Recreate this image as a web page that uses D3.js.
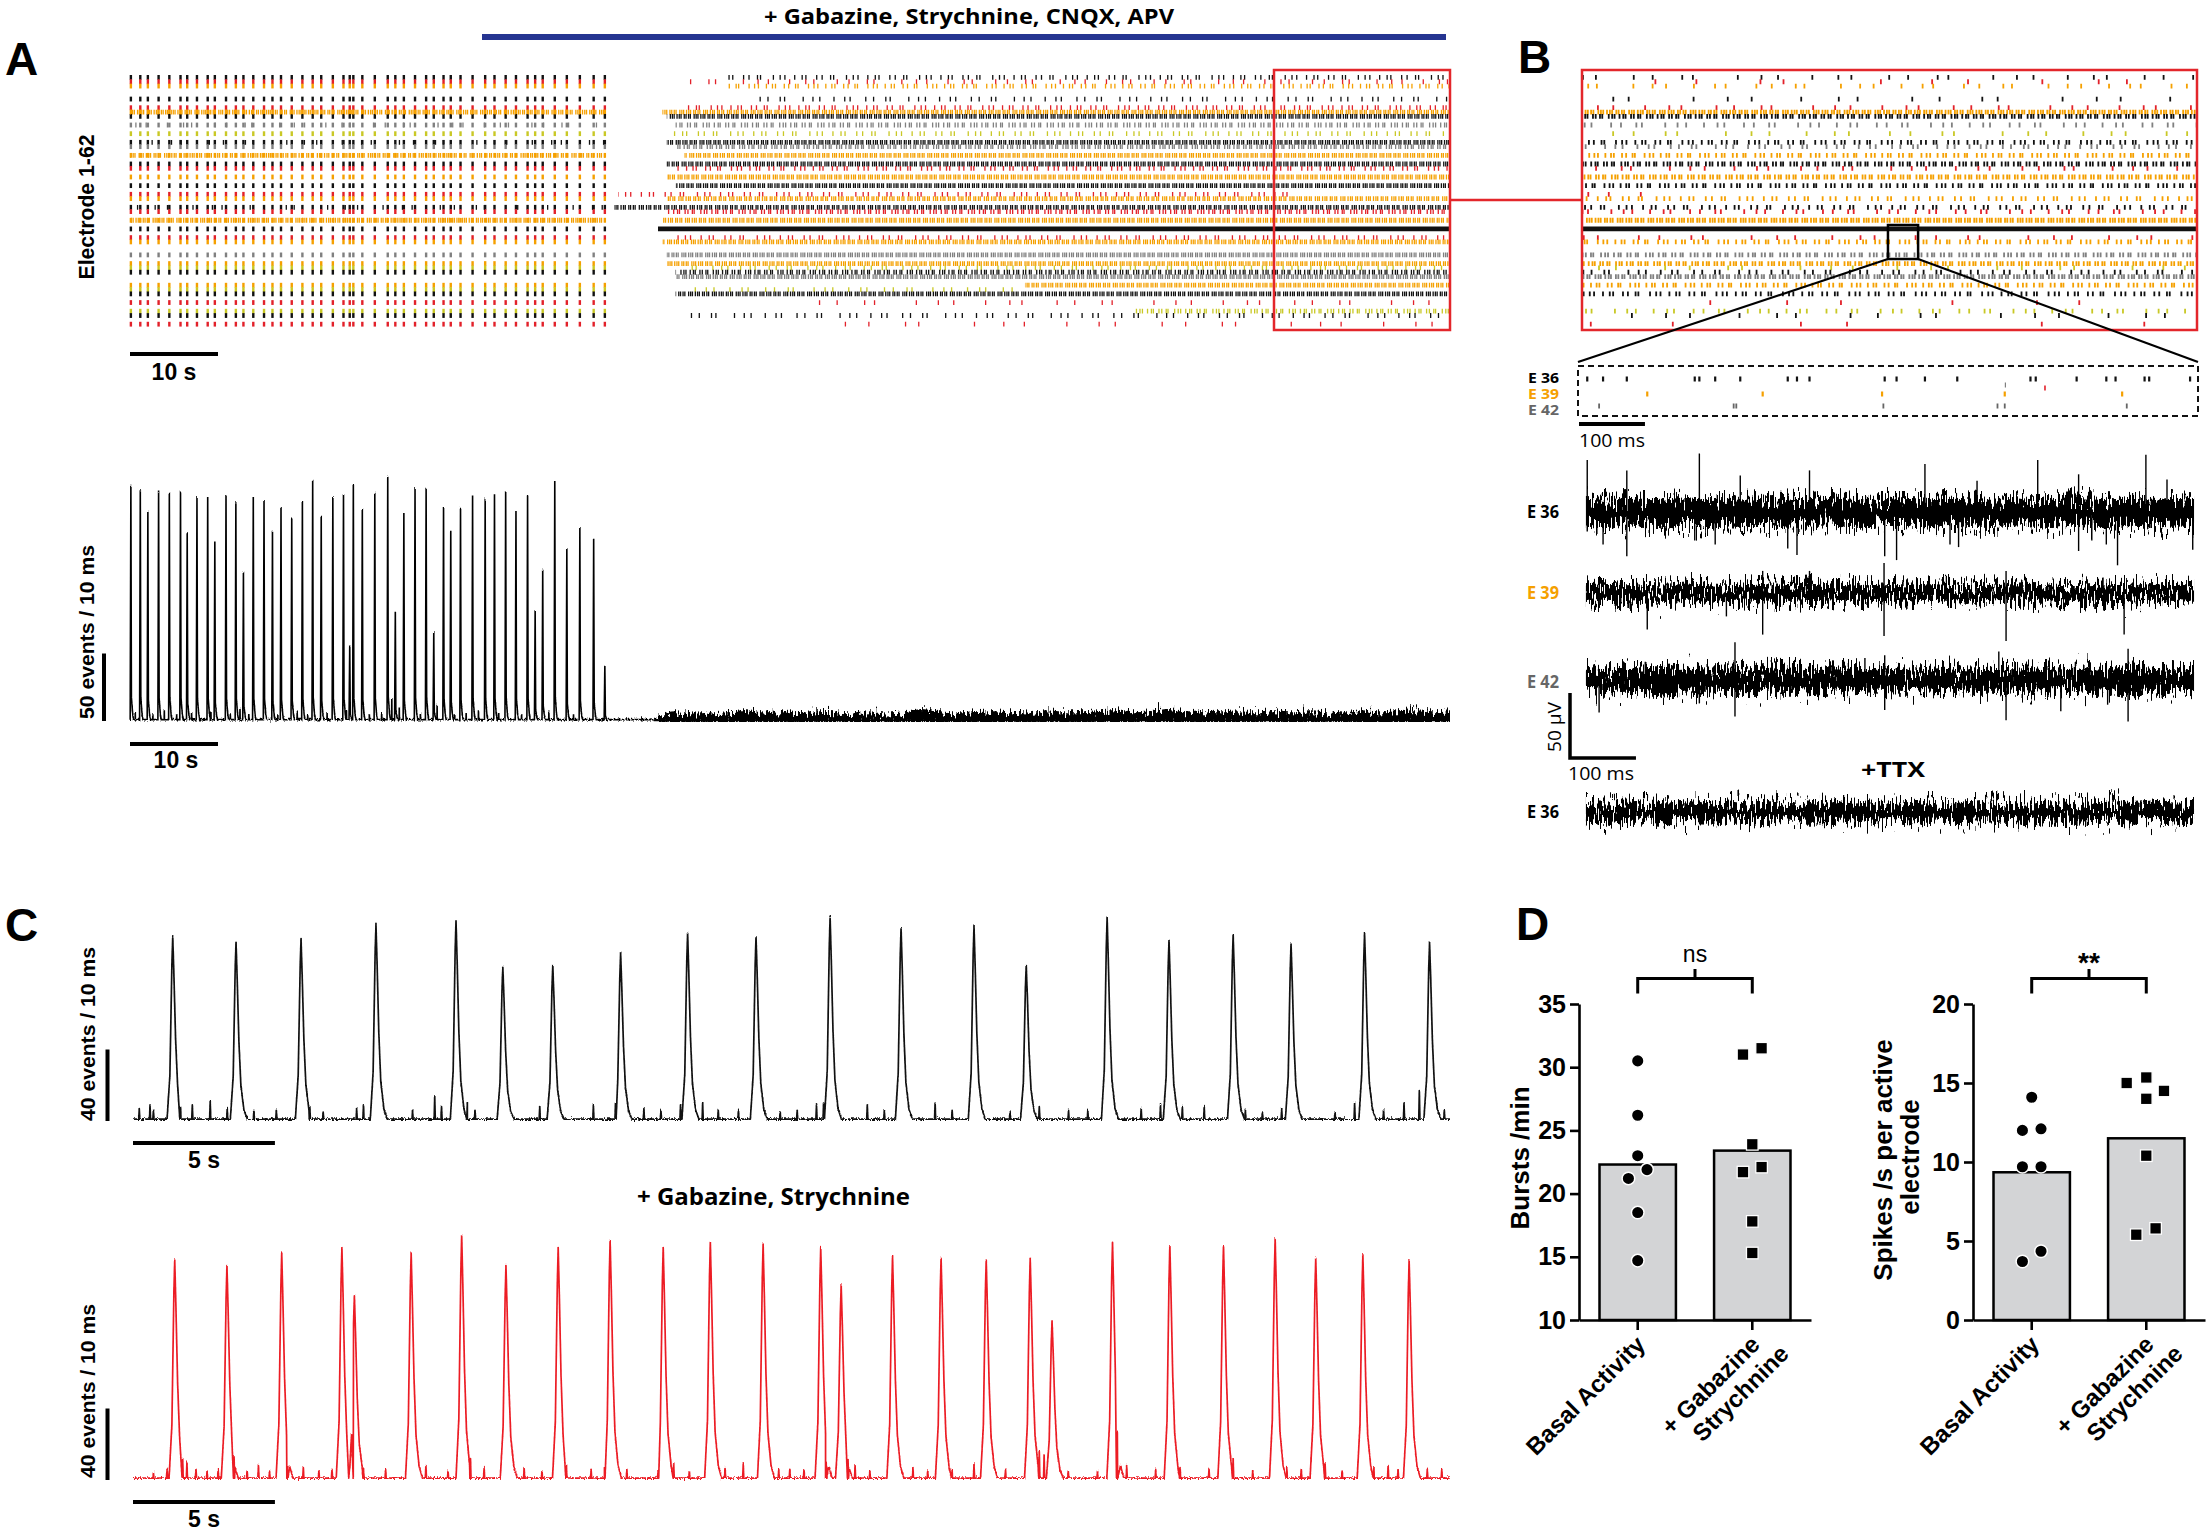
<!DOCTYPE html>
<html>
<head>
<meta charset="utf-8">
<script src="https://cdn.jsdelivr.net/npm/d3@7"></script>
<style>
  body { margin: 0; background: #fff; }
  svg { display: block; }
</style>
</head>
<body>
<svg id="fig" width="2211" height="1533"></svg>
<script>
// ---------- data ----------

// A: network bursts before the drugs (time s, events / 10 ms)
const burstTimesA = [0.1,1.17,2.03,3.25,4.47,5.74,6.5,7.61,8.83,9.64,10.91,12.03,12.89,14.01,15.23,16.19,17.16,18.38,19.59,20.76,21.73,23.05,24.26,24.97,25.38,26.4,27.82,29.29,30.15,31.12,32.39,33.65,34.52,35.63,36.45,37.56,38.93,40.36,41.42,42.69,43.86,45.18,46.04,46.9,48.27,49.64,51.12,52.69,53.96];
const burstHeightsA = [175,171,155,170,169,170,139,166,166,133,167,162,110,166,163,141,158,150,163,178,152,166,168,56,175,157,169,181,81,154,173,172,66,158,141,158,167,164,168,170,156,167,82,112,178,128,143,135,41];
const blipTimesA = [0.6,2.6,3.9,5.3,7.0,9.2,11.4,12.5,13.5,16.8,19.0,20.2,22.4,24.6,27.2,28.6,29.75,30.6,33.0,34.9,36.9,38.2,39.6,41.9,44.5,47.6,50.4,55.6,56.4,58.1,59.2];
const blipHeightsA = [6,5,8,5,6,7,5,9,6,5,7,5,6,8,5,6,17,10,6,12,5,6,8,6,5,7,5,2,2,1.5,2];
// A: activity under gabazine/strychnine/CNQX/APV, sampled every 2 s from 60 s (events / 10 ms)
const drugNoiseTimesA = [60,62,64,66,68,70,72,74,76,78,80,82,84,86,88,90,92,94,96,98,100,102,104,106,108,110,112,114,116,118,120,122,124,126,128,130,132,134,136,138,140,142,144,146,148,150];
const drugNoiseA = [4,8,6,7,8,9,7,8,6,9,8,7,8,7,8,11,8,7,8,9,8,7,9,8,8,9,10,8,9,11,8,9,8,9,8,9,8,9,8,7,9,8,9,10,9,10];

// A/B raster rows (electrode number, colour, basal bursting, rates in Hz, drug period in s)
const rowElectrode = [1,2,3,6,8,9,10,12,14,16,17,19,21,22,24,26,28,29,31,32,34,36,38,39,42,44,45,46,47,49,50,51,53,55,56,58];
const rowColor     = ["k","r","o","k","r","o","k","g","y","k","g","o","k","r","o","k","r","o","k","r","o","k","r","o","g","o","y","k","g","o","y","k","r","y","k","r"];
const rowBasal     = [1,1,1,1,1,1,1,1,1,1,1,1,1,1,1,1,1,1,1,1,1,1,1,1,1,1,1,1,0,1,1,1,1,1,1,1];
const rowBasalRate = [0,0,0,0,0,6,0,0.6,0,0.5,0,4,0,0,0,0,0,0,0.5,0,6,0,0,0,0,0,0,0,0,0,0,0,0,0,0,0];
const rowDrugRate  = [1.3,0.6,1.6,0.9,1.4,12,9,2.5,1.2,5,3,6,8,1.5,9,6,1.2,4,4,2.5,12,23,1.2,5.5,7.5,9,1,3,10,6,0.8,5,0.4,2.5,0.9,0.3];
const rowDrugStart = [68,63,68,70,63,60.5,61,62,61,61,62,63,61,62,61,62,55.5,61,55,61,60.5,60,61,60.5,61,61,63,62,62,101.7,63,62,75,114,63,80];
const rowDrugEnd   = [150,150,150,150,150,150,150,150,150,150,150,150,150,150,150,150,132,150,150,150,150,150,150,150,150,150,150,150,150,150,101.7,150,150,150,150,150];

// B: spike times inside the 940 ms window (ms)
const e36Ticks = [14,38,74,177,184,208,246,318,332,351,465,483,526,575,686,694,756,801,815,859,866,928];
const e39Ticks = [105,280,461,647,825];
const e42Ticks = [32,236,240,463,636,647,832];
const e40Ticks = [708];
const e37Ticks = [648];

// B: raw traces, envelope of the noise (µV) and detected spikes (ms, µV)
const envTimesB = [12,43,73,104,135,166,196,227,258,289,319,350,381,412,442,473,504,535,565,596,627,658,688,719,750,781,811,842,873,904,934];
const e36Up  = [20,17,21,18,19,22,18,20,17,21,19,18,22,19,17,20,21,18,20,19,17,21,18,20,22,19,18,20,17,21,19];
const e36Dn  = [19,21,17,20,22,18,21,19,20,18,22,19,17,21,20,18,19,22,18,20,21,17,19,21,18,20,22,18,21,19,20];
const e39Up  = [13,15,12,14,13,16,14,12,15,13,14,16,13,15,12,14,13,15,14,12,13,15,14,13,12,14,15,13,14,16,13];
const e39Dn  = [14,12,15,13,14,12,15,14,13,15,12,14,13,12,15,14,13,12,14,15,13,12,14,13,15,12,14,13,12,14,15];
const e42Up  = [18,16,19,17,18,20,17,19,16,18,20,17,19,18,16,19,17,18,20,17,18,16,19,17,18,19,17,20,18,16,19];
const e42Dn  = [17,19,16,18,20,17,19,16,18,17,19,18,16,20,17,18,19,17,16,18,19,17,20,18,16,19,17,18,19,17,18];
const ttxUp  = [14,13,16,14,15,13,14,16,13,15,14,13,15,14,16,13,14,15,13,14,16,14,13,15,14,13,15,14,16,13,14];
const ttxDn  = [13,15,14,13,16,14,15,13,14,16,13,15,14,13,15,14,16,13,14,15,13,14,16,13,15,14,13,15,14,16,13];
const e36SpikeT = [14,14,38,74,74,177,184,208,246,318,332,351,465,483,526,564,577,605,697,759,759,779,801,818,861,893,932];
const e36SpikeV = [40,-15,-25,32,-34,-22,45,-25,28,-28,-33,32,-34,-37,37,-25,-27,24,40,29,-30,-22,-25,-41,44,25,-29];
const e39SpikeT = [105,225,280,280,351,464,464,649,649,796,828];
const e39SpikeV = [-28,-18,-32,17,17,-33,23,-37,17,12,-32];
const e42SpikeT = [32,102,184,238,238,435,465,465,638,649,710,732,803,834,834];
const e42SpikeV = [-25,14,-18,29,-28,17,-23,19,22,-31,14,-24,-19,24,-32];

// C: population bursts (time s, events / 10 ms)
const peakTimesC = [1.40,3.63,5.92,8.56,11.38,13.03,14.79,17.18,19.54,21.95,24.56,27.06,29.63,31.47,34.32,36.5,38.76,40.80,43.39,45.68];
const peakHeightsC = [103,100,102,110,112,86,87,94,105,103,114,108,109,87,114,101,104,99,105,100];
const blipTimesC = [0.22,0.6,0.72,1.67,2.09,2.72,3.32,4.26,5.05,6.23,6.70,7.88,8.12,9.85,10.63,10.87,11.78,12.05,14.33,16.22,17.0,18.0,18.6,19.29,20.07,20.62,21.33,22.8,23.4,24.08,24.33,25.87,26.47,28.26,28.86,30.9,31.93,32.96,33.64,35.52,36.2,36.97,37.74,39.19,39.79,40.47,42.35,43.04,44.06,44.78,45.32,46.2];
const blipHeightsC = [7,9,6,8,9,11,7,6,6,8,5,7,9,6,14,8,10,6,8,9,10,7,6,9,10,6,6,5,6,9,10,9,6,10,6,5,8,6,6,7,9,8,8,6,5,7,5,10,6,10,17,6];
const peakTimesCDrug = [1.47,3.31,5.24,7.36,7.80,9.80,11.58,13.14,14.98,16.81,18.68,20.34,22.20,24.23,24.95,26.76,28.47,30.06,31.61,32.38,34.51,36.53,38.42,40.24,41.67,43.33,44.96];
const peakHeightsCDrug = [123,120,127,130,103,127,137,120,130,134,130,133,132,130,109,125,124,123,124,89,133,131,131,135,124,126,123];
const blipTimesCDrug = [0.72,1.2,1.75,1.9,2.22,2.61,3.0,3.56,4.02,4.42,4.81,5.44,6.0,6.55,7.01,8.12,8.9,10.32,11.1,11.89,12.37,13.78,14.41,15.27,16.14,16.61,17.4,18.5,19.05,19.6,20.86,21.5,22.75,23.14,23.64,24.42,25.19,25.44,25.96,27.48,28.0,28.86,29.63,30.74,31.93,32.1,32.95,33.98,34.67,35.01,36.03,36.89,37.91,38.76,39.45,40.65,41.16,42.0,42.6,43.72,44.22,44.57,45.6,46.11];
const blipHeightsCDrug = [4,6,12,10,6,5,6,13,5,8,5,8,7,5,6,6,6,8,5,12,7,7,5,8,6,7,6,5,9,5,7,9,6,6,6,10,12,8,5,7,5,6,9,6,16,14,5,5,12,8,6,7,6,12,5,7,6,9,5,7,8,6,6,6];

// D: burst rate and spike rate, basal vs + gabazine/strychnine
const groupsD = ["Basal Activity", "+ Gabazine Strychnine"];
const burstsMean = [22.3, 23.4];
const burstsBasal = [30.5, 26.2, 23.0, 21.2, 21.9, 18.5, 14.7];
const burstsDrug = [31.0, 31.5, 23.9, 21.7, 22.1, 17.8, 15.3];
const spikesMean = [9.35, 11.5];
const spikesBasal = [14.1, 12.0, 12.1, 9.7, 9.7, 3.7, 4.35];
const spikesDrug = [15.0, 15.35, 14.0, 14.5, 10.4, 5.4, 5.8];
const burstsTicks = [10, 15, 20, 25, 30, 35];
const spikesTicks = [0, 5, 10, 15, 20];

// ---------- drawing ----------
const svg = d3.select("#fig");
const ARIAL = "'Liberation Sans', Arial, sans-serif";
const MYRIAD = "'Open Sans', 'Liberation Sans', sans-serif";
const COL = { k: "#111", r: "#e2212a", o: "#f5a000", y: "#c9c826", g: "#808080" };

const defs = svg.append("defs");
// jagged look of the recorded noise (a filter, drawn on top of the data envelope)
function jagFilter(id, freq, scale) {
  const f = defs.append("filter").attr("id", id)
    .attr("x", "-2%").attr("y", "-150%").attr("width", "104%").attr("height", "400%")
    .attr("color-interpolation-filters", "sRGB");
  f.append("feTurbulence").attr("type", "fractalNoise").attr("baseFrequency", freq)
    .attr("numOctaves", 2).attr("seed", 5).attr("result", "n");
  f.append("feColorMatrix").attr("in", "n").attr("type", "matrix")
    .attr("values", "0 0 0 0 0.5  0 1 0 0 0  0 0 0 0 0  0 0 0 0 1").attr("result", "m");
  f.append("feDisplacementMap").attr("in", "SourceGraphic").attr("in2", "m").attr("scale", scale)
    .attr("xChannelSelector", "R").attr("yChannelSelector", "G");
}
jagFilter("jagB", "0.55 0.07", 44);
jagFilter("jagA", "0.6 0.1", 20);
jagFilter("jagC", "0.7 0.4", 5);

function txt(x, y, s, size, opts = {}) {
  const t = svg.append("text").attr("x", x).attr("y", y).text(s)
    .attr("font-family", opts.family || ARIAL)
    .attr("font-size", size)
    .attr("font-weight", opts.weight || "bold")
    .attr("fill", opts.fill || "#000")
    .attr("text-anchor", opts.anchor || "start");
  if (opts.len) t.attr("textLength", opts.len).attr("lengthAdjust", "spacingAndGlyphs");
  if (opts.rotate) t.attr("transform", `rotate(${opts.rotate},${x},${y})`);
  return t;
}

// panel letters
txt(5, 75, "A", 46);
txt(1518, 73, "B", 46);
txt(5, 941, "C", 46);
txt(1516, 940, "D", 46);

// drug bar + title
svg.append("line").attr("x1", 482).attr("x2", 1446).attr("y1", 37).attr("y2", 37)
  .attr("stroke", "#263591").attr("stroke-width", 6);
txt(764, 24, "+ Gabazine, Strychnine, CNQX, APV", 22, { family: MYRIAD, len: 410 });

// ---------- raster helpers ----------
const rows = rowElectrode.map((e, i) => ({
  e, i, c: COL[rowColor[i]], basal: rowBasal[i], basalRate: rowBasalRate[i],
  rate: rowDrugRate[i], start: rowDrugStart[i], end: rowDrugEnd[i]
}));
const yR = d3.scaleLinear().domain([1, 62]).range([77.4, 341.5]);
const xA = d3.scaleLinear().domain([0, 150]).range([130, 1450]);
const xB = d3.scaleLinear().domain([130, 150]).range([1582, 2197]);
const irregular = [0.55, 1.6, 0.8, 1.25, 0.45, 1.9, 1.0, 0.7, 1.45, 1.1];

function rateLine(g, x0, x1, y, rate, pxPerSec, color, tw, th, k, minPeriod) {
  if (!rate || x1 <= x0) return;
  const l = g.append("line").attr("x1", x0).attr("x2", x1).attr("y1", y).attr("y2", y)
    .attr("stroke", color).attr("stroke-width", th);
  if (rate >= 20) return; // continuously firing electrode
  const period = Math.max(minPeriod, pxPerSec / rate);
  const arr = [];
  irregular.forEach(m => arr.push(tw, Math.max(0.5, period * m - tw)));
  const total = d3.sum(arr);
  l.attr("stroke-dasharray", arr.map(v => v.toFixed(2)).join(" "))
   .attr("stroke-dashoffset", ((k * 37.7) % total).toFixed(2));
}

// A raster
const gA = svg.append("g");
const basalTicks = [];
rows.filter(r => r.basal).forEach(r => burstTimesA.forEach(t => basalTicks.push({ t, r })));
gA.selectAll("rect.bt").data(basalTicks).join("rect")
  .attr("x", d => xA(d.t) - 1.2).attr("y", d => yR(d.r.e) - 2.4)
  .attr("width", 2.4).attr("height", 4.8).attr("fill", d => d.r.c);
rows.forEach(r => {
  rateLine(gA, xA(0), xA(54), yR(r.e), r.basalRate, 8.8, r.c, 1.3, 4.8, r.i, 2.0);
  rateLine(gA, xA(r.start), xA(r.end), yR(r.e), r.rate, 8.8, r.c, 1.3, 4.8, r.i, 2.0);
});
svg.append("rect").attr("x", xA(130)).attr("y", 70).attr("width", xA(150) - xA(130)).attr("height", 260)
  .attr("fill", "none").attr("stroke", "#e3262b").attr("stroke-width", 2.5);
svg.append("line").attr("x1", xA(150)).attr("x2", 1582).attr("y1", 200).attr("y2", 200)
  .attr("stroke", "#e3262b").attr("stroke-width", 2.5);

txt(94, 207, "Electrode 1-62", 22, { anchor: "middle", rotate: -90, len: 145 });
svg.append("line").attr("x1", 130).attr("x2", xA(10)).attr("y1", 354).attr("y2", 354)
  .attr("stroke", "#000").attr("stroke-width", 4);
txt(174, 380, "10 s", 23, { anchor: "middle" });

// B raster
const gB = svg.append("g");
rows.forEach(r => {
  const s = Math.max(130, r.start), e = Math.min(150, r.end);
  rateLine(gB, xB(s), xB(e), yR(r.e), r.rate, 30.75, r.c, 1.8, 4.8, r.i, 2.6);
});
svg.append("rect").attr("x", 1582).attr("y", 70).attr("width", 615).attr("height", 260)
  .attr("fill", "none").attr("stroke", "#e3262b").attr("stroke-width", 2.5);
// zoomed window 140-141 s
const zx0 = xB(139.95), zx1 = xB(140.93);
svg.append("rect").attr("x", zx0).attr("y", 225).attr("width", zx1 - zx0).attr("height", 34)
  .attr("fill", "none").attr("stroke", "#000").attr("stroke-width", 2.5);
svg.append("line").attr("x1", zx0).attr("y1", 259).attr("x2", 1578).attr("y2", 362).attr("stroke", "#000").attr("stroke-width", 2.2);
svg.append("line").attr("x1", zx1).attr("y1", 259).attr("x2", 2198).attr("y2", 362).attr("stroke", "#000").attr("stroke-width", 2.2);

// dashed window with single-electrode spikes
const xT = d3.scaleLinear().domain([0, 940]).range([1578, 2198]);
svg.append("rect").attr("x", 1578).attr("y", 366).attr("width", 620).attr("height", 50)
  .attr("fill", "none").attr("stroke", "#111").attr("stroke-width", 2).attr("stroke-dasharray", "6 4");
const tickRows = [
  { ticks: e36Ticks, y: 379, c: COL.k, w: 2.2 },
  { ticks: e37Ticks, y: 385, c: COL.g, w: 1.2 },
  { ticks: e40Ticks, y: 388, c: COL.r, w: 1.6 },
  { ticks: e39Ticks, y: 394, c: COL.o, w: 2.2 },
  { ticks: e42Ticks, y: 406, c: "#666", w: 1.8 }
];
tickRows.forEach(tr => {
  svg.append("g").selectAll("rect").data(tr.ticks).join("rect")
    .attr("x", d => xT(d) - tr.w / 2).attr("y", tr.y - 2.5).attr("width", tr.w).attr("height", 5).attr("fill", tr.c);
});
txt(1559, 383, "E 36", 14, { family: MYRIAD, anchor: "end", len: 31 });
txt(1559, 399, "E 39", 14, { family: MYRIAD, anchor: "end", len: 31, fill: COL.o });
txt(1559, 415, "E 42", 14, { family: MYRIAD, anchor: "end", len: 31, fill: "#666" });
svg.append("line").attr("x1", 1579).attr("x2", 1579 + (xT(100) - xT(0))).attr("y1", 424).attr("y2", 424)
  .attr("stroke", "#000").attr("stroke-width", 4);
txt(1579, 447, "100 ms", 19, { family: MYRIAD, weight: "normal", len: 66 });

// raw traces
const UV = 1.3; // px per µV
function noiseTrace(yc, up, dn, spikeT, spikeV, coreF) {
  const y = d3.scaleLinear().domain([-50, 50]).range([yc + 50 * UV, yc - 50 * UV]);
  const pts = envTimesB.map((t, i) => ({ t, u: up[i], d: dn[i] }));
  const g = svg.append("g");
  g.append("path").datum(pts)
    .attr("d", d3.area().curve(d3.curveMonotoneX).x(d => xT(d.t)).y0(d => y(-d.d * coreF)).y1(d => y(d.u * coreF)))
    .attr("fill", "#000").attr("filter", "url(#jagB)");
  if (spikeT) {
    g.selectAll("line").data(spikeT).join("line")
      .attr("x1", d => xT(d)).attr("x2", d => xT(d))
      .attr("y1", y(0)).attr("y2", (d, i) => y(spikeV[i]))
      .attr("stroke", "#000").attr("stroke-width", 1.4);
  }
}
noiseTrace(512, e36Up, e36Dn, e36SpikeT, e36SpikeV, 0.55);
noiseTrace(593, e39Up, e39Dn, e39SpikeT, e39SpikeV, 0.5);
noiseTrace(680, e42Up, e42Dn, e42SpikeT, e42SpikeV, 0.52);
noiseTrace(812, ttxUp, ttxDn, null, null, 0.5);
txt(1559, 518, "E 36", 17, { family: MYRIAD, anchor: "end", len: 32 });
txt(1559, 599, "E 39", 17, { family: MYRIAD, anchor: "end", len: 32, fill: COL.o });
txt(1559, 688, "E 42", 17, { family: MYRIAD, anchor: "end", len: 32, fill: "#666" });
txt(1559, 818, "E 36", 17, { family: MYRIAD, anchor: "end", len: 32 });
// 50 µV / 100 ms bar
svg.append("path").attr("d", `M1570,${758 - 50 * UV} V758 H${1570 + xT(100) - xT(0)}`)
  .attr("fill", "none").attr("stroke", "#000").attr("stroke-width", 3.5);
txt(1568, 780, "100 ms", 19, { family: MYRIAD, weight: "normal", len: 66 });
txt(1561, 727, "50 µV", 19, { family: MYRIAD, weight: "normal", anchor: "middle", rotate: -90, len: 50 });
txt(1893, 777, "+TTX", 22, { family: MYRIAD, anchor: "middle", len: 64 });

// ---------- event-count traces ----------
function eventSeries(peaksT, peaksH, shape, blipT, blipH, t0, t1, base) {
  const pts = [[t0, base], [t1, base]];
  peaksT.forEach((t, i) => shape.forEach(([dt, f]) => pts.push([t + dt, Math.max(base, f * peaksH[i])])));
  blipT.forEach((t, i) => pts.push([t - 0.02, base], [t, blipH[i]], [t + 0.02, base]));
  return pts.sort((a, b) => a[0] - b[0]);
}

// A trace
const yTA = d3.scaleLinear().domain([0, 50]).range([721, 653.5]);
const shapeA = [[-0.08, 0], [0, 1], [0.06, 0.1], [0.2, 0.03], [0.3, 0]];
const seriesA = eventSeries(burstTimesA, burstHeightsA, shapeA, blipTimesA, blipHeightsA, 0, 60, 1);
defs.append("clipPath").attr("id", "clipA").append("rect")
  .attr("x", 0).attr("y", 560).attr("width", 1500).attr("height", 162);
const gTA = svg.append("g");
const drugPts = drugNoiseTimesA.map((t, i) => ({ t, v: drugNoiseA[i] }));
gTA.append("g").attr("clip-path", "url(#clipA)").append("path").datum(drugPts)
  .attr("d", d3.area().curve(d3.curveMonotoneX).x(d => xA(d.t)).y0(yTA(-2)).y1(d => yTA(d.v * 0.8)))
  .attr("fill", "#000").attr("filter", "url(#jagA)");
gTA.append("path").datum(seriesA)
  .attr("d", d3.line().x(d => xA(d[0])).y(d => yTA(d[1])))
  .attr("fill", "none").attr("stroke", "#000").attr("stroke-width", 1.6).attr("filter", "url(#jagC)");
gTA.append("line").attr("x1", xA(59.5)).attr("x2", xA(150)).attr("y1", yTA(0.6)).attr("y2", yTA(0.6))
  .attr("stroke", "#000").attr("stroke-width", 2);
svg.append("line").attr("x1", 104).attr("x2", 104).attr("y1", yTA(0)).attr("y2", yTA(50))
  .attr("stroke", "#000").attr("stroke-width", 4);
txt(94, 632, "50 events / 10 ms", 21, { anchor: "middle", rotate: -90, len: 174 });
svg.append("line").attr("x1", 130).attr("x2", xA(10)).attr("y1", 744).attr("y2", 744)
  .attr("stroke", "#000").attr("stroke-width", 4);
txt(176, 768, "10 s", 23, { anchor: "middle" });

// C traces
const xC = d3.scaleLinear().domain([0, 46.4]).range([133, 1450]);
const shapeC = [[-0.2, 0], [-0.1, 0.25], [-0.03, 0.85], [0, 1], [0.04, 0.8], [0.1, 0.45], [0.17, 0.2], [0.28, 0.06], [0.4, 0]];
function drawC(yBase, peaksT, peaksH, blipT, blipH, color) {
  const y = d3.scaleLinear().domain([0, 40]).range([yBase, yBase - 71.5]);
  const s = eventSeries(peaksT, peaksH, shapeC, blipT, blipH, 0, 46.4, 1);
  svg.append("path").datum(s)
    .attr("d", d3.line().x(d => xC(d[0])).y(d => y(d[1])))
    .attr("fill", "none").attr("stroke", color).attr("stroke-width", 1.7)
    .attr("stroke-linejoin", "round").attr("filter", "url(#jagC)");
  svg.append("line").attr("x1", 107.5).attr("x2", 107.5).attr("y1", y(0)).attr("y2", y(40))
    .attr("stroke", "#000").attr("stroke-width", 4);
  svg.append("line").attr("x1", xC(0)).attr("x2", xC(5)).attr("y1", yBase + 22).attr("y2", yBase + 22)
    .attr("stroke", "#000").attr("stroke-width", 4);
}
drawC(1121, peakTimesC, peakHeightsC, blipTimesC, blipHeightsC, "#111");
drawC(1480, peakTimesCDrug, peakHeightsCDrug, blipTimesCDrug, blipHeightsCDrug, "#ec1c24");
txt(95, 1034, "40 events / 10 ms", 21, { anchor: "middle", rotate: -90, len: 174 });
txt(95, 1391, "40 events / 10 ms", 21, { anchor: "middle", rotate: -90, len: 174 });
txt(204, 1168, "5 s", 23, { anchor: "middle" });
txt(204, 1527, "5 s", 23, { anchor: "middle" });
txt(637, 1205, "+ Gabazine, Strychnine", 23, { family: MYRIAD, len: 273 });

// ---------- D: bar charts ----------
function barPanel(cfg) {
  const x = d3.scaleBand().domain(groupsD).range([cfg.x0, cfg.x1]).paddingInner(0.333).paddingOuter(0.179);
  const y = d3.scaleLinear().domain(cfg.domain).range([1320, 1004]);
  const g = svg.append("g");
  g.selectAll("rect.bar").data(cfg.means).join("rect")
    .attr("x", (d, i) => x(groupsD[i])).attr("width", x.bandwidth())
    .attr("y", d => y(d)).attr("height", d => 1320 - y(d))
    .attr("fill", "#d3d4d6").attr("stroke", "#000").attr("stroke-width", 2.5);

  const yAx = g.append("g").attr("transform", `translate(${cfg.x0},0)`)
    .call(d3.axisLeft(y).tickValues(cfg.ticks).tickSize(9).tickSizeOuter(0).tickPadding(4));
  const xAx = g.append("g").attr("transform", "translate(0,1320)")
    .call(d3.axisBottom(x).tickSize(10).tickSizeOuter(0).tickFormat(""));
  [yAx, xAx].forEach(a => {
    a.selectAll("path,line").attr("stroke", "#000").attr("stroke-width", 2.6);
    a.selectAll("text").attr("font-family", ARIAL).attr("font-weight", "bold")
      .attr("font-size", 25).attr("fill", "#000");
  });

  const cx = i => x(groupsD[i]) + x.bandwidth() / 2;
  // scatter of individual cultures
  g.selectAll("circle").data(cfg.basal).join("circle")
    .attr("cx", (d, i) => cx(0) + cfg.jitterBasal[i]).attr("cy", d => y(d)).attr("r", 6.3)
    .attr("fill", "#000").attr("stroke", "#fff").attr("stroke-width", 1.5);
  g.selectAll("rect.sq").data(cfg.drug).join("rect").attr("class", "sq")
    .attr("x", (d, i) => cx(1) + cfg.jitterDrug[i] - 5.8).attr("y", d => y(d) - 5.8)
    .attr("width", 11.6).attr("height", 11.6)
    .attr("fill", "#000").attr("stroke", "#fff").attr("stroke-width", 1.3);

  // significance bracket
  const mid = (cx(0) + cx(1)) / 2;
  g.append("path").attr("d", `M${cx(0)},993.5 V978.5 H${cx(1)} V993.5 M${mid},978.5 V969`)
    .attr("fill", "none").attr("stroke", "#000").attr("stroke-width", 3);
  txt(mid, cfg.sigY, cfg.sig, cfg.sigSize, { anchor: "middle", weight: cfg.sigWeight });

  // rotated category labels
  const lb = g.append("text").attr("transform", `translate(${cx(0) + 9},1346) rotate(-45)`)
    .attr("text-anchor", "end").attr("font-family", ARIAL).attr("font-weight", "bold").attr("font-size", 24);
  lb.append("tspan").attr("x", 0).attr("y", 0).text("Basal Activity");
  const ld = g.append("text").attr("transform", `translate(${cx(1) + 9},1346) rotate(-45)`)
    .attr("text-anchor", "end").attr("font-family", ARIAL).attr("font-weight", "bold").attr("font-size", 24);
  ld.append("tspan").attr("x", 0).attr("y", 0).text("+ Gabazine");
  ld.append("tspan").attr("x", 14).attr("y", 27).text("Strychnine");
}

barPanel({
  x0: 1579, x1: 1811, domain: [10, 35], ticks: burstsTicks,
  means: burstsMean, basal: burstsBasal, drug: burstsDrug,
  jitterBasal: [0, 0, 0, -9.3, 9.3, 0, 0], jitterDrug: [-9.3, 9.3, 0, -9.3, 9.3, 0, 0],
  sig: "ns", sigY: 962, sigSize: 23, sigWeight: "normal"
});
barPanel({
  x0: 1973, x1: 2205, domain: [0, 20], ticks: spikesTicks,
  means: spikesMean, basal: spikesBasal, drug: spikesDrug,
  jitterBasal: [0, -9.3, 9.3, -9.3, 9.3, -9.3, 9.3], jitterDrug: [-19.6, 0, 0, 17.7, 0, -10, 9.3],
  sig: "**", sigY: 972, sigSize: 28, sigWeight: "bold"
});
txt(1529, 1158, "Bursts /min", 26, { anchor: "middle", rotate: -90 });
txt(1892, 1160, "Spikes /s per active", 26, { anchor: "middle", rotate: -90 });
txt(1919, 1157, "electrode", 26, { anchor: "middle", rotate: -90 });
</script>
</body>
</html>
